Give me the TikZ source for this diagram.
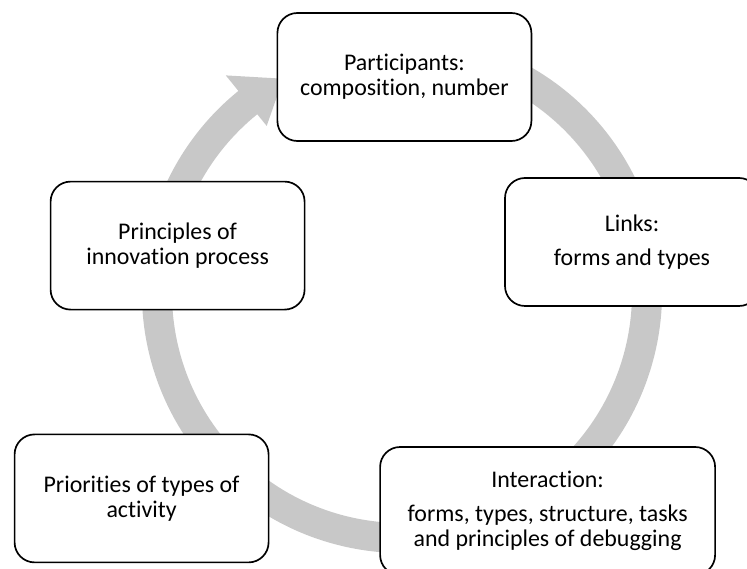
\documentclass[tikz,border=0pt]{standalone}
\usepackage{fontspec}
\setmainfont{Carlito}[Ligatures=NoCommon]
\usepackage{xcolor}
\usepackage{tikz}

\definecolor{ringgray}{RGB}{200,200,200}

\begin{document}
\begin{tikzpicture}[
    stage/.style={rectangle, draw, line width=1.2pt, fill=white, rounded corners=0.5cm, align=center, minimum width=6.35cm, minimum height=3.2cm, font=\fontsize{17}{18}\selectfont}]

    \useasboundingbox (0,0) rectangle (18.675,14.2);

    % grey cycle arrow behind the boxes
    \fill[ringgray, shift={(10.05,6.875)}]
        (75:6.5) arc[start angle=75, end angle=-231, radius=6.5]
        -- (129:7.0) -- (119:6.125) -- (129:5.375) -- (129:5.75)
        arc[start angle=-231, end angle=75, radius=5.75] -- cycle;

    \node[stage] (part) at (10.11,12.275) {Participants:\\composition, number};
    \node[stage] (links) at (15.8,8.15) {Links:\\[6pt]forms and types};
    \node[stage, minimum width=8.375cm] (inter) at (13.69,1.425) {Interaction:\\[6pt]forms, types, structure, tasks\\and principles of debugging};
    \node[stage] (prio) at (3.54,1.74) {Priorities of types of\\activity};
    \node[stage] (princ) at (4.44,8.06) {Principles of\\innovation process};

\end{tikzpicture}
\end{document}
